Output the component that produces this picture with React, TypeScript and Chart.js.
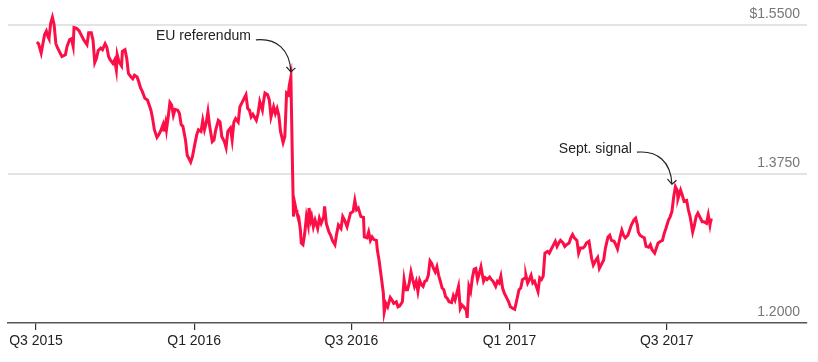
import React, { useEffect, useRef } from 'react';
import { Chart, registerables } from 'chart.js';

Chart.register(...registerables);

// Days counted from the "Q3 2015" tick
const days = [
  1, 3, 6, 8, 10, 12, 14, 15, 17, 19, 21, 23, 25, 28, 30, 34, 36, 39, 41, 43,
  44, 47, 50, 53, 55, 57, 59, 61, 64, 66, 68, 70, 72, 75, 77, 80, 82, 84, 86, 89,
  91, 93, 94, 96, 99, 100, 103, 105, 107, 110, 112, 114, 117, 119, 121, 123, 126,
  129, 131, 133, 135, 137, 140, 142, 144, 147, 148, 150, 151, 153, 155, 157, 159, 161, 164, 166, 168,
  170, 173, 175, 177, 179, 181, 184, 186, 188, 191, 193, 195, 197, 199, 201, 204, 206, 208, 211, 213,
  215, 218, 220, 222, 225, 227, 229, 231, 234, 236, 238, 241, 243, 245, 247, 249, 251,
  255, 257, 259, 262, 263, 265, 268, 270, 272, 275, 277, 279, 281, 283, 286, 288, 290, 292, 293, 295,
  297, 298, 299, 301, 302, 304, 306, 307, 309, 311, 313, 315, 316, 318, 319, 321, 323, 326, 328, 330,
  333, 334, 336, 339, 341, 343, 346, 348, 350, 353, 355, 357, 360, 362, 364, 367, 369, 371, 373, 376,
  379, 380, 383, 385, 387, 389, 391, 394, 395, 397, 398, 400, 402, 403, 405, 407, 410, 412, 414, 417,
  419, 421, 424, 426, 428, 430, 432, 434, 436, 438, 440, 442, 444, 446, 448, 450, 452, 454, 456, 458,
  460, 462, 464, 466, 468, 470, 472, 474, 476, 478, 481, 483, 485, 487, 489, 491, 493, 495, 498, 499,
  501, 503, 505, 507,
  509, 511, 513, 515, 518, 520, 522, 525, 527, 529, 532, 534, 536, 538, 540, 542, 545, 547, 549, 552,
  554, 556, 559, 561, 563, 566, 567, 569, 570, 573, 575, 577, 579, 581, 583, 585, 587, 589, 592, 594,
  596, 599, 601, 603, 605, 607, 610, 612, 614, 617, 619, 621, 623, 626, 628, 630, 633, 635, 637, 640,
  643, 645, 648, 650, 652, 655, 657, 659, 662, 664, 666, 669, 671, 673, 676, 678, 680, 682, 685, 687,
  689, 692, 694, 696, 697, 699, 702, 704, 706, 709, 711, 713, 716, 718, 720, 723, 725, 727, 729, 732,
  734, 736, 738, 740, 742, 743, 746, 748, 750, 753, 755, 757, 760, 762, 764, 766, 769, 771, 773, 776,
  778, 780, 781, 783,
];

const gbpusd = [
  1.530, 1.528, 1.517, 1.528, 1.539, 1.543, 1.536, 1.534, 1.552, 1.559, 1.550, 1.528, 1.523, 1.517, 1.513, 1.515, 1.525, 1.533, 1.534, 1.525,
  1.547, 1.546, 1.543, 1.537, 1.533, 1.530, 1.527, 1.541, 1.541, 1.532, 1.506, 1.511, 1.520, 1.523, 1.521, 1.528, 1.524, 1.513, 1.509, 1.505,
  1.509, 1.497, 1.515, 1.507, 1.502, 1.519, 1.521, 1.511, 1.493, 1.489, 1.487, 1.491, 1.489, 1.483, 1.476, 1.472, 1.464,
  1.462, 1.456, 1.450, 1.440, 1.427, 1.418, 1.421, 1.425, 1.433, 1.425, 1.435, 1.427, 1.442, 1.459, 1.456, 1.444, 1.451, 1.450, 1.446, 1.433,
  1.431, 1.415, 1.397, 1.393, 1.389, 1.395, 1.411, 1.421, 1.427, 1.425, 1.438, 1.427, 1.435, 1.448, 1.431, 1.413, 1.415, 1.427, 1.438, 1.436,
  1.419, 1.413, 1.406, 1.425, 1.429, 1.415, 1.436, 1.440, 1.436, 1.454, 1.458, 1.464, 1.468, 1.452, 1.450, 1.442, 1.445,
  1.438, 1.446, 1.460, 1.450, 1.458, 1.470, 1.468, 1.462, 1.442, 1.454, 1.446, 1.452, 1.444, 1.425, 1.412, 1.419, 1.470, 1.468, 1.478, 1.489,
  1.376, 1.325, 1.343, 1.333, 1.329, 1.325, 1.309, 1.294, 1.292, 1.305, 1.325, 1.315, 1.335, 1.321, 1.325, 1.313, 1.321, 1.311, 1.323, 1.317,
  1.325, 1.337, 1.317, 1.307, 1.303, 1.297, 1.292, 1.305, 1.315, 1.311, 1.325, 1.321, 1.313, 1.321, 1.329, 1.331, 1.344, 1.333, 1.335, 1.325,
  1.324, 1.301, 1.300, 1.307, 1.297, 1.301, 1.298, 1.297, 1.286, 1.274, 1.274, 1.251, 1.235, 1.213, 1.223, 1.219, 1.230, 1.227, 1.223, 1.225,
  1.219, 1.220, 1.225, 1.251, 1.239, 1.239, 1.247, 1.260, 1.251, 1.243, 1.249, 1.237, 1.250, 1.245, 1.243, 1.249, 1.250, 1.256, 1.273, 1.270,
  1.264, 1.260, 1.266, 1.256, 1.249, 1.241, 1.239, 1.231, 1.229, 1.225, 1.224, 1.232, 1.227, 1.235, 1.243, 1.217, 1.221, 1.219, 1.215, 1.206,
  1.243, 1.237, 1.253, 1.263,
  1.264, 1.251, 1.258, 1.266, 1.249, 1.253, 1.251, 1.254, 1.251, 1.249, 1.243, 1.249, 1.247, 1.255, 1.241, 1.235, 1.229, 1.225, 1.219, 1.217,
  1.216, 1.225, 1.239, 1.241, 1.251, 1.253, 1.256, 1.247, 1.249, 1.256, 1.247, 1.249, 1.243, 1.237, 1.253, 1.251, 1.255, 1.282, 1.284, 1.282,
  1.286, 1.292, 1.296, 1.290, 1.294, 1.297, 1.294, 1.290, 1.292, 1.294, 1.300, 1.304, 1.300, 1.297, 1.282, 1.288, 1.288, 1.290, 1.294, 1.296,
  1.276, 1.268, 1.274, 1.277, 1.264, 1.270, 1.274, 1.288, 1.301, 1.303, 1.297, 1.296, 1.292, 1.287, 1.301, 1.309, 1.303, 1.300, 1.303, 1.309,
  1.315, 1.321, 1.323, 1.315, 1.307, 1.303, 1.301, 1.300, 1.290, 1.289, 1.292, 1.286, 1.282, 1.288, 1.294, 1.296, 1.297, 1.305, 1.311, 1.321,
  1.325, 1.331, 1.348, 1.360, 1.356, 1.346, 1.356, 1.350, 1.343, 1.344, 1.333, 1.325, 1.307, 1.315, 1.325, 1.329, 1.323, 1.319, 1.319, 1.317,
  1.327, 1.315, 1.321, 1.321,
];

const tickDays = [0, 183, 365, 548, 730];
const tickLabels = ['Q3 2015', 'Q1 2016', 'Q3 2016', 'Q1 2017', 'Q3 2017'];
const yTicks = [1.2, 1.375, 1.55];

const annotationTexts = ['EU referendum', 'Sept. signal'];
const annotationDays = [295, 736];
const annotationValues = [1.495, 1.363];

const FONT = '"Liberation Sans", Arial, Helvetica, sans-serif';

const annotationPlugin = {
  id: 'arrowNotes',
  afterDatasetsDraw(chart: any) {
    const { ctx, scales } = chart;
    ctx.save();
    annotationTexts.forEach((text, i) => {
      const px = scales.x.getPixelForValue(annotationDays[i]);
      const py = scales.y.getPixelForValue(annotationValues[i]);
      ctx.fillStyle = '#222';
      ctx.font = `14px ${FONT}`;
      ctx.textAlign = 'right';
      ctx.textBaseline = 'middle';
      ctx.fillText(text, px - 40, py - 35.5);
      ctx.strokeStyle = '#222';
      ctx.lineWidth = 1.2;
      ctx.beginPath();
      ctx.moveTo(px - 35, py - 32);
      ctx.bezierCurveTo(px - 14, py - 34, px - 1, py - 22, px, py);
      ctx.stroke();
      ctx.beginPath();
      ctx.moveTo(px - 4.5, py - 5);
      ctx.lineTo(px, py);
      ctx.lineTo(px + 4.5, py - 4);
      ctx.stroke();
    });
    ctx.restore();
  },
};

export default function App() {
  const ref = useRef<HTMLCanvasElement>(null);

  useEffect(() => {
    if (!ref.current) return;
    const chart = new Chart(ref.current, {
      type: 'line',
      data: {
        datasets: [
          {
            data: days.map((d, i) => ({ x: d, y: gbpusd[i] })),
            borderColor: '#fb0f46',
            borderWidth: 3,
            pointRadius: 0,
            tension: 0,
            fill: false,
          },
        ],
      },
      options: {
        responsive: false,
        animation: false,
        events: [],
        layout: { padding: { left: 8, top: 5, right: 0, bottom: 0 } },
        plugins: {
          legend: { display: false },
          tooltip: { enabled: false },
        },
        scales: {
          x: {
            type: 'linear',
            position: 'bottom',
            min: -32.4,
            max: 892.3,
            afterBuildTicks: (scale: any) => {
              scale.ticks = tickDays.map((v) => ({ value: v }));
            },
            afterFit: (scale: any) => {
              scale.height = 39;
              scale.paddingLeft = 0;
              scale.paddingRight = 0;
            },
            ticks: {
              autoSkip: false,
              maxRotation: 0,
              padding: 3,
              color: '#222',
              font: { family: FONT, size: 14 },
              callback: (_v: any, i: number) => tickLabels[i],
            },
            grid: {
              display: true,
              drawOnChartArea: false,
              drawTicks: true,
              tickLength: 7,
              color: '#333',
              lineWidth: 1.2,
            },
            border: { display: true, color: '#555', width: 1.5 },
          },
          y: {
            type: 'linear',
            position: 'right',
            min: 1.2,
            max: 1.5735,
            afterBuildTicks: (scale: any) => {
              scale.ticks = yTicks.map((v) => ({ value: v }));
            },
            afterFit: (scale: any) => {
              scale.width = 11;
              scale.paddingTop = 0;
              scale.paddingBottom = 0;
            },
            ticks: {
              mirror: true,
              padding: -7,
              labelOffset: -11,
              color: '#777',
              font: { family: FONT, size: 14 },
              callback: (v: any) => (v === 1.55 ? '$1.5500' : Number(v).toFixed(4)),
            },
            grid: {
              drawTicks: false,
              color: (c: any) => (c.tick && c.tick.value === 1.2 ? 'rgba(0,0,0,0)' : '#e4e4e4'),
              lineWidth: 2,
            },
            border: { display: false },
          },
        },
      },
      plugins: [annotationPlugin],
    });
    return () => chart.destroy();
  }, []);

  return (
    <div style={{ position: 'absolute', left: 0, top: 0, width: 818, height: 362, background: '#fff' }}>
      <canvas ref={ref} width={818} height={362} style={{ display: 'block' }} />
    </div>
  );
}
